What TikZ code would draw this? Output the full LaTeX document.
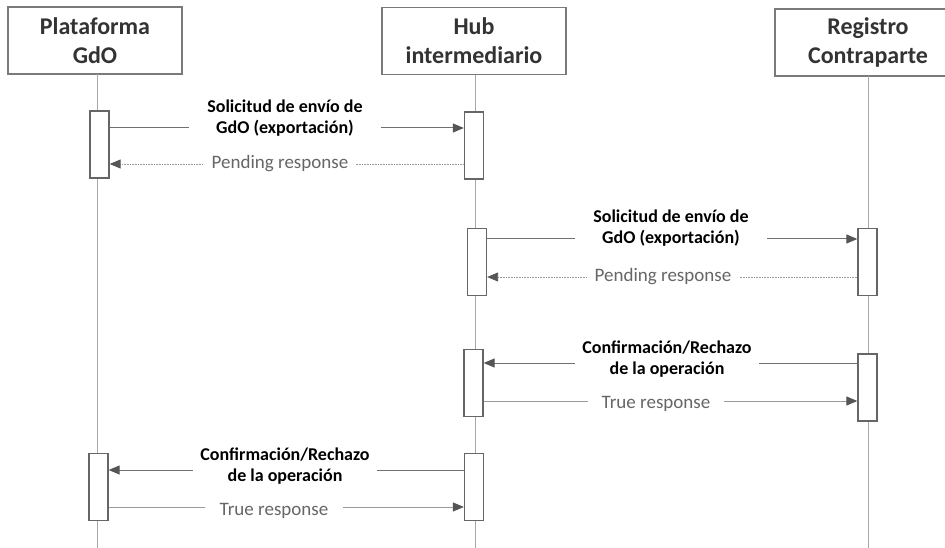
\documentclass[tikz,border=0pt]{standalone}
\usepackage{fontspec}
\setmainfont{Carlito}
\usetikzlibrary{arrows.meta}
\definecolor{boxgray}{HTML}{7A7A7A}
\definecolor{lifegray}{HTML}{A8A8A8}
\definecolor{linegray}{HTML}{707070}
\definecolor{tipgray}{HTML}{555555}
\definecolor{dotgray}{HTML}{9A9A9A}
\definecolor{respgray}{HTML}{666666}
\definecolor{headtext}{HTML}{333333}
\tikzset{
  header/.style={draw=boxgray, line width=1.6pt, fill=white, minimum height=67pt,
    align=center, font=\fontsize{24}{29}\selectfont\bfseries, text=headtext, inner sep=0pt},
  actbox/.style={draw=respgray, line width=1.3pt, fill=white, minimum width=19pt,
    minimum height=67pt, inner sep=0pt},
  lifeline/.style={draw=lifegray, line width=1pt},
  reqmsg/.style={draw=linegray, line width=1pt, arrows={-{Triangle[length=11pt,width=9pt,fill=tipgray,color=tipgray]}}},
  pendmsg/.style={draw=dotgray, line width=0.9pt, dash pattern=on 1pt off 0.6pt, arrows={-{Triangle[length=11pt,width=9pt,fill=tipgray,color=tipgray]}}},
  truemsg/.style={draw=dotgray, line width=1pt, arrows={-{Triangle[length=11pt,width=9pt,fill=tipgray,color=tipgray]}}},
  reqlabel/.style={fill=white, align=center, font=\fontsize{18}{21.5}\selectfont\bfseries, text=black, inner ysep=3pt},
  resplabel/.style={fill=white, align=center, font=\fontsize{19}{22}\selectfont, text=respgray, inner ysep=4pt},
}
\begin{document}
\begin{tikzpicture}[x=1pt,y=-1pt]
\useasboundingbox (0,0) rectangle (945,548);
\clip (0,0) rectangle (945,548);
\fill[white] (0,0) rectangle (945,548);

% headers
\node[header, minimum width=174pt] (plat) at (95,40.5) {Plataforma\\GdO};
\node[header, minimum width=184pt] (hub) at (474,41) {Hub\\intermediario};
\node[header, minimum width=186pt] (reg) at (868,42.5) {Registro\\Contraparte};

% lifeline ends
\coordinate (platend) at (97,548);
\coordinate (hubend) at (475,548);
\coordinate (regend) at (868,548);
\draw[lifeline] (97,74) -- (platend);
\draw[lifeline] (475,75) -- (hubend);
\draw[lifeline] (868,76) -- (regend);

% activation boxes
\node[actbox] (pa1) at (99.5,144.5) {};
\node[actbox] (ha1) at (474,145.5) {};
\node[actbox] (ha2) at (477,262) {};
\node[actbox] (ra1) at (867.5,262) {};
\node[actbox] (ha3) at (473.5,383) {};
\node[actbox] (ra2) at (867.5,387.5) {};
\node[actbox] (pa2) at (98.5,487) {};
\node[actbox] (ha4) at (474,487) {};

% message heights
\coordinate (m1) at (0,128);
\coordinate (m2) at (0,164);
\coordinate (m3) at (0,239);
\coordinate (m4) at (0,277);
\coordinate (m5) at (0,363);
\coordinate (m6) at (0,401);
\coordinate (m7) at (0,470);
\coordinate (m8) at (0,507);

% messages
\draw[reqmsg] (pa1.east |- m1) -- (ha1.west |- m1);
\node[reqlabel, inner xsep=18pt] at (285,118) {Solicitud de envío de\\GdO (exportación)};

\draw[pendmsg] (ha1.west |- m2) -- (pa1.east |- m2);
\node[resplabel, inner xsep=8pt] at (280,164) {Pending response};

\draw[reqmsg] (ha2.east |- m3) -- (ra1.west |- m3);
\node[reqlabel, inner xsep=18pt] at (671,228) {Solicitud de envío de\\GdO (exportación)};

\draw[pendmsg] (ra1.west |- m4) -- (ha2.east |- m4);
\node[resplabel, inner xsep=8pt] at (663,277) {Pending response};

\draw[reqmsg] (ra2.west |- m5) -- (ha3.east |- m5);
\node[reqlabel, inner xsep=7pt] at (667,359) {Confirmación/Rechazo\\de la operación};

\draw[truemsg] (ha3.east |- m6) -- (ra2.west |- m6);
\node[resplabel, inner xsep=14pt] at (656,404) {True response};

\draw[reqmsg] (ha4.west |- m7) -- (pa2.east |- m7);
\node[reqlabel, inner xsep=7pt] at (285,466) {Confirmación/Rechazo\\de la operación};

\draw[truemsg] (pa2.east |- m8) -- (ha4.west |- m8);
\node[resplabel, inner xsep=15pt] at (274,511) {True response};
\end{tikzpicture}
\end{document}
